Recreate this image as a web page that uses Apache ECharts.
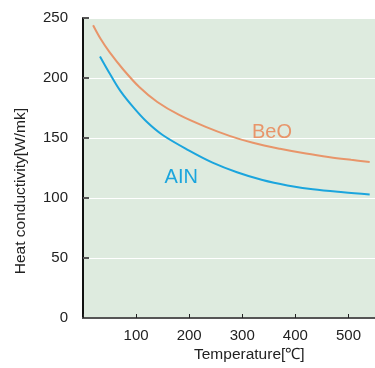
<!DOCTYPE html>
<html>
<head>
<meta charset="utf-8">
<script src="https://cdn.jsdelivr.net/npm/echarts@6/dist/echarts.min.js"></script>
<style>
  html, body { margin: 0; padding: 0; background: #fff; }
  #chart { width: 375px; height: 368px; }
</style>
</head>
<body>
<div id="chart"></div>
<script>
// temperature [°C] vs heat conductivity [W/mK]
const beoX = [19, 34, 50, 75, 106, 140, 182, 230, 276, 320, 371, 420, 465, 505, 540]
const beoY = [244, 232, 221.5, 207.5, 192.5, 180, 169, 159.5, 151.8, 146, 141, 137, 134, 131.8, 130]
const ainX = [32, 50, 70, 95, 120, 150, 200, 244, 290, 338, 385, 433, 490, 540]
const ainY = [218, 204, 189.5, 175.5, 163.5, 152.5, 139.5, 129.5, 121.5, 115, 110.5, 107.3, 104.8, 103]
const yTicks = [0, 50, 100, 150, 200, 250]

const pair = (xs, ys) => xs.map((x, i) => [x, ys[i]])
const font = 'Liberation Sans, Arial, sans-serif'

const chart = echarts.init(document.getElementById('chart'))
const option = {
  animation: false,
  grid: {
    left: 83,
    right: 0,
    top: 18,
    bottom: 50,
    outerBoundsMode: 'none',
    containLabel: false,
    show: true,
    backgroundColor: '#deebdf',
    borderWidth: 0
  },
  xAxis: {
    type: 'value',
    min: 0,
    max: 550,
    interval: 100,
    axisLine: { lineStyle: { color: '#555', width: 2 } },
    axisTick: { inside: true, length: 4, lineStyle: { color: '#222' } },
    axisLabel: {
      color: '#222',
      fontSize: 15,
      fontFamily: font,
      margin: 10,
      formatter: v => (v === 0 || v > 500 ? '' : v)
    },
    splitLine: { show: false }
  },
  yAxis: {
    type: 'value',
    min: yTicks[0],
    max: yTicks[yTicks.length - 1],
    interval: 50,
    axisLine: { show: true, lineStyle: { color: '#111', width: 2 } },
    axisTick: { show: true, inside: true, length: 6, lineStyle: { color: '#555', width: 2 } },
    axisLabel: { color: '#222', fontSize: 15, fontFamily: font, margin: 15 },
    splitLine: { show: true, lineStyle: { color: '#fff', width: 1.2 } }
  },
  graphic: [
    {
      type: 'text',
      left: 13,
      top: 108,
      rotation: Math.PI / 2,
      style: {
        text: 'Heat conductivity[W/mk]',
        fill: '#222',
        font: '15.5px ' + font
      }
    },
    {
      type: 'text',
      left: 194,
      top: 347,
      style: {
        text: 'Temperature[℃]',
        fill: '#222',
        font: '15.5px ' + font
      }
    }
  ],
  series: [
    {
      name: 'BeO',
      type: 'line',
      smooth: 0.35,
      symbol: 'none',
      data: pair(beoX, beoY),
      lineStyle: { color: '#e8956a', width: 2 },
      markPoint: {
        symbolSize: 0,
        data: [{ coord: [356, 155] }],
        label: { show: true, formatter: 'BeO', color: '#e8956a', fontSize: 20, fontFamily: font }
      }
    },
    {
      name: 'AIN',
      type: 'line',
      smooth: 0.35,
      symbol: 'none',
      data: pair(ainX, ainY),
      lineStyle: { color: '#1ba5dd', width: 2 },
      markPoint: {
        symbolSize: 0,
        data: [{ coord: [185, 117] }],
        label: { show: true, formatter: 'AIN', color: '#1ba5dd', fontSize: 20, fontFamily: font }
      }
    }
  ]
}
chart.setOption(option)
</script>
</body>
</html>
